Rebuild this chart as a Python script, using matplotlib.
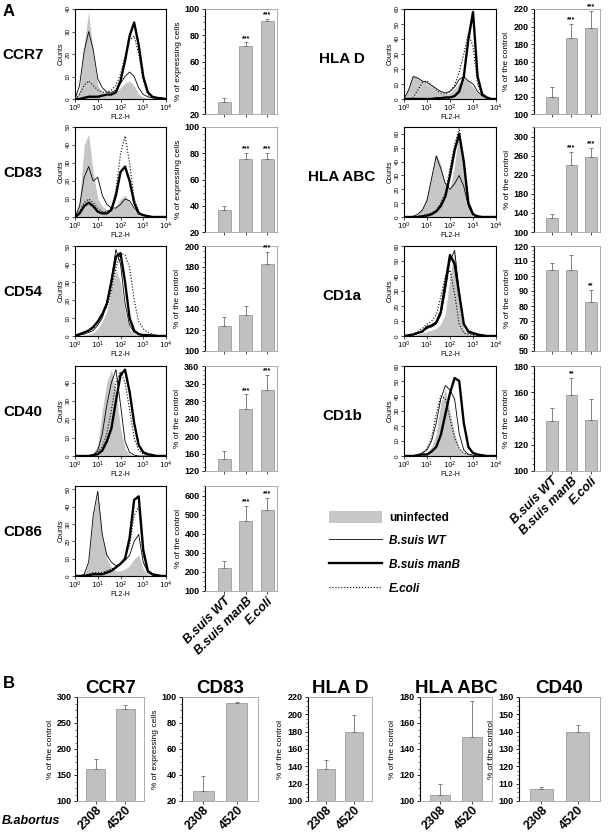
import numpy as np
import matplotlib
matplotlib.use('Agg')
import matplotlib.pyplot as plt
from matplotlib.ticker import AutoMinorLocator, LogLocator, NullFormatter
from matplotlib.patches import Patch
from matplotlib.lines import Line2D

plt.rcParams['font.family'] = ['Liberation Sans', 'DejaVu Sans']

# FL2-H positions (log10) shared by every histogram
fl2_log = [0.0, 0.2, 0.4, 0.6, 0.8, 1.0, 1.2, 1.4, 1.6, 1.8, 2.0,
           2.2, 2.4, 2.6, 2.8, 3.0, 3.2, 3.4, 3.6, 3.8, 4.0]

# ---- histogram counts: uninfected / WT / manB / E.coli ----
ccr7_unf = [0, 4, 24, 39, 20, 6, 3, 2, 2, 3, 5, 7, 8, 6, 2, 1, 0.5, 0.3, 0.2, 0, 0]
ccr7_wt = [0, 6, 21, 30, 22, 9, 5, 3, 3, 4, 7, 10, 12, 10, 5, 2, 1, 0.5, 0.2, 0, 0]
ccr7_manb = [0, 0, 0.5, 1, 1, 1, 1.5, 2, 2, 3, 8, 17, 28, 34, 24, 10, 3, 1, 0.5, 0.3, 0]
ccr7_eco = [0, 2, 6, 8, 6, 4, 3, 3, 4, 6, 11, 19, 26, 28, 20, 8, 2, 1, 0.5, 0, 0]

cd83_unf = [0, 8, 40, 46, 25, 10, 6, 4, 4, 6, 10, 12, 8, 4, 1, 0.5, 0, 0, 0, 0, 0]
cd83_wt = [0, 6, 22, 28, 20, 22, 12, 7, 5, 5, 7, 10, 9, 5, 2, 1, 0.5, 0, 0, 0, 0]
cd83_manb = [0, 2, 6, 8, 6, 3, 2, 2, 4, 12, 25, 28, 20, 8, 2, 1, 0.5, 0, 0, 0, 0]
cd83_eco = [0, 3, 8, 10, 8, 5, 3, 3, 5, 15, 35, 45, 30, 10, 3, 1, 0.5, 0, 0, 0, 0]

cd54_unf = [0, 0, 0.5, 1, 2, 4, 8, 14, 26, 37, 30, 14, 4, 1, 0.5, 0, 0, 0, 0, 0, 0]
cd54_wt = [0, 0.5, 1, 2, 3, 6, 10, 18, 32, 48, 40, 18, 6, 2, 1, 0.5, 0, 0, 0, 0, 0]
cd54_manb = [0, 1, 2, 3, 5, 8, 12, 18, 30, 44, 46, 30, 10, 3, 1, 0.5, 0.5, 0.3, 0, 0, 0]
cd54_eco = [0, 1, 2, 3, 4, 8, 13, 16, 25, 38, 46, 45, 38, 20, 8, 4, 2, 1, 0.5, 0, 0]

cd40_unf = [0, 0, 0, 0, 1, 6, 25, 40, 47, 35, 15, 4, 1, 0, 0, 0, 0, 0, 0, 0, 0]
cd40_wt = [0, 0, 0, 0, 0.5, 3, 12, 28, 40, 47, 28, 8, 2, 0.5, 0, 0, 0, 0, 0, 0, 0]
cd40_manb = [0, 0, 0, 0, 0.5, 1, 3, 8, 15, 30, 44, 47, 35, 18, 6, 2, 1, 0.5, 0, 0, 0]
cd40_eco = [0, 0, 0, 0, 0.5, 2, 5, 12, 25, 40, 46, 40, 25, 10, 3, 1, 0.5, 0, 0, 0, 0]

cd86_unf = [0, 0, 1, 8, 35, 48, 22, 10, 5, 3, 3, 4, 6, 10, 12, 4, 1, 0, 0, 0, 0]
cd86_wt = [0, 0, 1, 8, 35, 49, 24, 12, 8, 6, 7, 9, 12, 20, 24, 8, 2, 0.5, 0, 0, 0]
cd86_manb = [0, 0, 0, 0.5, 1, 1, 1, 2, 3, 5, 7, 10, 22, 44, 46, 15, 3, 1, 0.5, 0, 0]
cd86_eco = [0, 0, 0.5, 1, 2, 2, 2, 3, 4, 5, 7, 10, 18, 35, 40, 12, 2, 1, 0, 0, 0]

hlad_unf = [0, 8, 16, 14, 12, 10, 8, 6, 4, 3, 4, 7, 11, 14, 12, 8, 4, 1.5, 0.5, 0, 0]
hlad_wt = [0, 6, 15, 14, 12, 11, 9, 7, 5, 4, 5, 8, 13, 15, 12, 10, 5, 2, 0.5, 0, 0]
hlad_manb = [0, 0, 0, 0, 0, 0, 0, 0.5, 0.5, 1, 1, 2, 5, 15, 40, 58, 15, 3, 1, 0, 0]
hlad_eco = [0, 0, 1, 6, 11, 12, 9, 6, 4, 3, 5, 9, 18, 30, 44, 35, 10, 3, 1, 0, 0]

hlaabc_unf = [0, 0, 0.5, 2, 6, 15, 30, 46, 38, 22, 20, 38, 62, 40, 12, 3, 1, 0, 0, 0, 0]
hlaabc_wt = [0, 0, 0.5, 2, 5, 12, 28, 44, 35, 24, 20, 24, 30, 22, 8, 2, 0.5, 0, 0, 0, 0]
hlaabc_manb = [0, 0, 0, 0, 0.5, 1, 2, 4, 8, 15, 30, 48, 60, 40, 10, 2, 0.5, 0, 0, 0, 0]
hlaabc_eco = [0, 0, 0, 0.5, 1, 2, 3, 5, 10, 18, 35, 52, 64, 38, 8, 1, 0, 0, 0, 0, 0]

cd1a_unf = [0, 0, 0.5, 1, 2, 3, 4, 5, 8, 15, 40, 58, 25, 5, 1, 0.5, 0, 0, 0, 0, 0]
cd1a_wt = [0, 0.5, 1, 2, 3, 5, 6, 8, 14, 30, 50, 57, 30, 8, 2, 1, 0.5, 0, 0, 0, 0]
cd1a_manb = [0, 0.5, 1, 2, 3, 6, 7, 9, 16, 35, 54, 48, 28, 8, 3, 2, 1, 0.5, 0, 0, 0]
cd1a_eco = [0, 0.5, 1, 3, 5, 8, 10, 14, 26, 40, 44, 28, 8, 2, 1, 0.5, 0, 0, 0, 0, 0]

cd1b_unf = [0, 0, 0, 0.5, 1, 2, 6, 15, 35, 45, 30, 15, 5, 2, 1, 0, 0, 0, 0, 0, 0]
cd1b_wt = [0, 0, 0, 0.5, 2, 4, 10, 22, 38, 47, 44, 38, 15, 4, 1, 0.5, 0, 0, 0, 0, 0]
cd1b_manb = [0, 0, 0, 0.5, 1, 1, 3, 6, 14, 28, 42, 52, 50, 22, 6, 2, 1, 0.5, 0, 0, 0]
cd1b_eco = [0, 0, 0, 1, 2, 5, 12, 28, 40, 38, 25, 12, 5, 2, 1, 0.5, 0, 0, 0, 0, 0]

# ---- bar data (A): B.suis WT, B.suis manB, E.coli ----
strains = ['B.suis WT', 'B.suis manB', 'E.coli']
ccr7_bar = [29, 72, 91]
ccr7_err = [3, 2.5, 1.5]
cd83_bar = [36.5, 76, 76]
cd83_err = [3.5, 4.5, 4.5]
cd54_bar = [124, 134, 183]
cd54_err = [8, 9, 11]
cd40_bar = [147, 261, 306]
cd40_err = [19, 34, 33]
cd86_bar = [219, 468, 526]
cd86_err = [39, 79, 62]
hlad_bar = [120, 187, 198]
hlad_err = [11, 16, 20]
hlaabc_bar = [129, 240, 257]
hlaabc_err = [8, 27, 20]
cd1a_bar = [104, 104, 83]
cd1a_err = [5, 10, 7.5]
cd1b_bar = [138, 158, 139]
cd1b_err = [10, 13, 16]

# ---- bar data (B): B.abortus 2308 vs 4520 ----
abortus = ['2308', '4520']
b_ccr7 = [162, 277]
b_ccr7_err = [19, 8]
b_cd83 = [28, 95.5]
b_cd83_err = [11, 0.8]
b_hlad = [137, 180]
b_hlad_err = [10, 19]
b_hlaabc = [105, 149]
b_hlaabc_err = [8, 28]
b_cd40 = [107, 140]
b_cd40_err = [1, 4]

W, H = 608, 835
fig = plt.figure(figsize=(W / 100, H / 100), dpi=100, facecolor='white')


def px_axes(x, y, w, h):
    return fig.add_axes([x / W, 1 - (y + h) / H, w / W, h / H])


def px_text(x, y, s, **kw):
    fig.text(x / W, 1 - y / H, s, **kw)


def draw_hist(ax, unf, wt, manb, eco, ymax, ytk):
    x = 10 ** np.array(fl2_log)
    ax.fill_between(x, 0, unf, color='#c6c6c6', lw=0)
    ax.plot(x, wt, color='k', lw=0.6)
    ax.plot(x, manb, color='k', lw=1.7)
    ax.plot(x, eco, color='k', lw=0.8, ls=':')
    ax.set_xscale('log')
    ax.set_xlim(1, 1e4)
    ax.set_ylim(0, ymax)
    ax.set_xticks([1, 10, 100, 1000, 10000])
    ax.set_xticklabels(['$10^0$', '$10^1$', '$10^2$', '$10^3$', '$10^4$'], fontsize=5)
    ax.xaxis.set_minor_locator(LogLocator(base=10, subs=np.arange(2, 10)))
    ax.xaxis.set_minor_formatter(NullFormatter())
    ax.set_yticks(ytk)
    ax.set_yticklabels([str(t) for t in ytk], fontsize=4.5, rotation=90, va='center')
    ax.tick_params(which='major', length=2, width=0.5, pad=1)
    ax.tick_params(which='minor', length=1, width=0.4)
    ax.set_xlabel('FL2-H', fontsize=5, labelpad=0)
    ax.set_ylabel('Counts', fontsize=5, labelpad=1)
    for sp in ax.spines.values():
        sp.set_linewidth(0.8)


def draw_bars(ax, vals, errs, ylim, ytk, ylabel, stars=None, names=None,
              width=0.6, xlim=(-0.9, 2.45), namesize=9):
    pos = np.arange(len(vals))
    ax.bar(pos, vals, width=width, color='#c0c0c0', edgecolor='#8e8e8e', lw=0.5, zorder=2)
    ax.errorbar(pos, vals, yerr=[np.zeros(len(errs)), errs], fmt='none', ecolor='#6e6e6e',
                elinewidth=0.6, capsize=1.3, capthick=0.6, zorder=3)
    if stars:
        for p, v, e, s in zip(pos, vals, errs, stars):
            if s:
                ax.annotate(s, (p, v + e), xytext=(0, 0.5), textcoords='offset points',
                            ha='center', va='bottom', fontsize=5, fontweight='bold')
    ax.set_xlim(*xlim)
    ax.set_ylim(*ylim)
    ax.set_yticks(ytk)
    ax.set_yticklabels([str(t) for t in ytk], fontsize=6.5, fontweight='bold')
    ax.yaxis.set_minor_locator(AutoMinorLocator(4))
    ax.set_xticks(pos)
    if names:
        ax.set_xticklabels(names, rotation=45, ha='right', rotation_mode='anchor',
                           fontsize=namesize, fontweight='bold', fontstyle='italic')
    else:
        ax.set_xticklabels([])
    ax.tick_params(axis='y', which='major', length=2.5, width=0.6, pad=1.5)
    ax.tick_params(axis='y', which='minor', length=1.2, width=0.4)
    ax.tick_params(axis='x', length=2, width=0.5, pad=1)
    ax.set_ylabel(ylabel, fontsize=6, labelpad=2)
    for side in ['top', 'right', 'bottom']:
        ax.spines[side].set_color('#a0a0a0')
        ax.spines[side].set_linewidth(0.6)
    ax.spines['left'].set_linewidth(0.8)


rows_top = [9, 127, 246, 366, 486]
pct_expr = '% of expressing cells'
pct_ctrl = '% of the control'

left_rows = [
    ('CCR7', (ccr7_unf, ccr7_wt, ccr7_manb, ccr7_eco), 40, [0, 10, 20, 30, 40],
     ccr7_bar, ccr7_err, (20, 100), [20, 40, 60, 80, 100], pct_expr, ['', '***', '***']),
    ('CD83', (cd83_unf, cd83_wt, cd83_manb, cd83_eco), 50, [0, 10, 20, 30, 40, 50],
     cd83_bar, cd83_err, (20, 100), [20, 40, 60, 80, 100], pct_expr, ['', '***', '***']),
    ('CD54', (cd54_unf, cd54_wt, cd54_manb, cd54_eco), 50, [0, 10, 20, 30, 40, 50],
     cd54_bar, cd54_err, (100, 200), [100, 120, 140, 160, 180, 200], pct_ctrl, ['', '', '***']),
    ('CD40', (cd40_unf, cd40_wt, cd40_manb, cd40_eco), 49, [0, 10, 20, 30, 40],
     cd40_bar, cd40_err, (120, 360), [120, 160, 200, 240, 280, 320, 360], pct_ctrl, ['', '***', '***']),
    ('CD86', (cd86_unf, cd86_wt, cd86_manb, cd86_eco), 52, [0, 10, 20, 30, 40, 50],
     cd86_bar, cd86_err, (100, 650), [100, 200, 300, 400, 500, 600], pct_ctrl, ['', '***', '***']),
]

right_rows = [
    ('HLA D', (hlad_unf, hlad_wt, hlad_manb, hlad_eco), 60, [0, 10, 20, 30, 40, 50, 60],
     hlad_bar, hlad_err, (100, 220), [100, 120, 140, 160, 180, 200, 220], pct_ctrl, ['', '***', '***']),
    ('HLA ABC', (hlaabc_unf, hlaabc_wt, hlaabc_manb, hlaabc_eco), 65, [0, 10, 20, 30, 40, 50, 60],
     hlaabc_bar, hlaabc_err, (100, 320), [100, 140, 180, 220, 260, 300], pct_ctrl, ['', '***', '***']),
    ('CD1a', (cd1a_unf, cd1a_wt, cd1a_manb, cd1a_eco), 60, [0, 10, 20, 30, 40, 50, 60],
     cd1a_bar, cd1a_err, (50, 120), [50, 60, 70, 80, 90, 100, 110, 120], pct_ctrl, ['', '', '**']),
    ('CD1b', (cd1b_unf, cd1b_wt, cd1b_manb, cd1b_eco), 60, [0, 10, 20, 30, 40, 50, 60],
     cd1b_bar, cd1b_err, (100, 180), [100, 120, 140, 160, 180], pct_ctrl, ['', '**', '']),
]

for i, (name, curves, ymax, ytk, bv, be, ylim, btk, ylab, st) in enumerate(left_rows):
    top = rows_top[i]
    px_text(23, top + 46, name, fontsize=11, fontweight='bold', ha='center', va='center')
    axh = px_axes(75, top, 91, 90)
    draw_hist(axh, *curves, ymax, ytk)
    axb = px_axes(205, top, 72, 105)
    draw_bars(axb, bv, be, ylim, btk, ylab, stars=st,
              names=strains if i == len(left_rows) - 1 else None)

for i, (name, curves, ymax, ytk, bv, be, ylim, btk, ylab, st) in enumerate(right_rows):
    top = rows_top[i]
    px_text(342, top + 50, name, fontsize=11, fontweight='bold', ha='center', va='center')
    axh = px_axes(404, top, 92, 90)
    draw_hist(axh, *curves, ymax, ytk)
    axb = px_axes(534, top, 66, 105)
    draw_bars(axb, bv, be, ylim, btk, ylab, stars=st,
              names=strains if i == len(right_rows) - 1 else None)

# legend
handles = [Patch(facecolor='#c6c6c6', edgecolor='none'),
           Line2D([], [], color='k', lw=0.6),
           Line2D([], [], color='k', lw=1.7),
           Line2D([], [], color='k', lw=0.8, ls=':')]
leg = fig.legend(handles, ['uninfected', 'B.suis WT', 'B.suis manB', 'E.coli'],
                 loc='upper left', bbox_to_anchor=(318 / W, 1 - 500 / H), frameon=False,
                 handlelength=4.5, handleheight=1.2, labelspacing=0.9, handletextpad=0.6,
                 prop={'size': 8.5, 'weight': 'bold'})
for t in leg.get_texts()[1:]:
    t.set_fontstyle('italic')

# panel B
b_panels = [
    ('CCR7', 77, 67, b_ccr7, b_ccr7_err, (100, 300), [100, 150, 200, 250, 300], pct_ctrl),
    ('CD83', 182, 76, b_cd83, b_cd83_err, (20, 100), [20, 40, 60, 80, 100], pct_expr),
    ('HLA D', 308, 64, b_hlad, b_hlad_err, (100, 220), [100, 120, 140, 160, 180, 200, 220], pct_ctrl),
    ('HLA ABC', 420, 72, b_hlaabc, b_hlaabc_err, (100, 180), [100, 120, 140, 160, 180], pct_ctrl),
    ('CD40', 519, 81, b_cd40, b_cd40_err, (100, 160), [100, 110, 120, 130, 140, 150, 160], pct_ctrl),
]
for name, x0, w, bv, be, ylim, btk, ylab in b_panels:
    ax = px_axes(x0, 697, w, 104)
    draw_bars(ax, bv, be, ylim, btk, ylab, names=abortus, width=0.62,
              xlim=(-0.62, 1.62), namesize=9)
    for lbl in ax.get_xticklabels():
        lbl.set_fontstyle('normal')
    ax.tick_params(axis='x', pad=0)
    ax.set_title(name, fontsize=13.5, fontweight='bold', pad=1.5)

px_text(3, 12, 'A', fontsize=12, fontweight='bold', va='center')
px_text(3, 684, 'B', fontsize=12, fontweight='bold', va='center')
px_text(2, 821, 'B.abortus', fontsize=9, fontweight='bold', fontstyle='italic', va='center')

fig.savefig('out.png', dpi=100, facecolor='white')
